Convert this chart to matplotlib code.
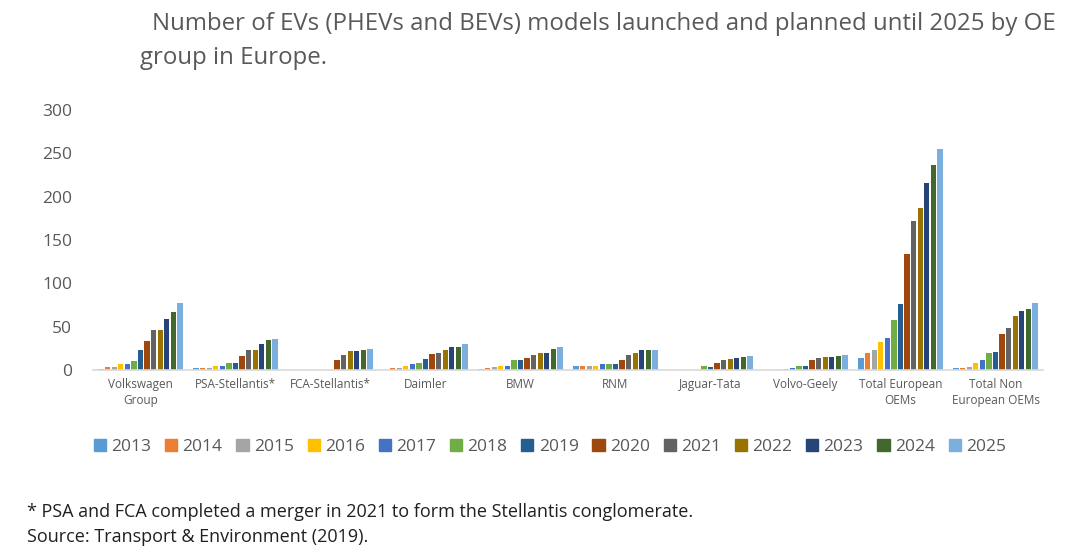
import numpy as np
import matplotlib.pyplot as plt
from matplotlib.patches import Patch

# categories and years
groups = ["Volkswagen\nGroup", "PSA-Stellantis*", "FCA-Stellantis*", "Daimler", "BMW", "RNM",
          "Jaguar-Tata", "Volvo-Geely", "Total European\nOEMs", "Total Non\nEuropean OEMs"]
years = ["2013", "2014", "2015", "2016", "2017", "2018", "2019",
         "2020", "2021", "2022", "2023", "2024", "2025"]

# number of models per group, one row per year (2013..2025)
vw = [1.5, 4, 4, 6.5, 7, 10, 23, 34, 46, 46, 59, 67, 77]
psa = [2, 2, 2, 5, 5, 8.5, 8.5, 16, 23, 23, 30, 35, 36]
fca = [0, 0, 0, 0, 0, 0, 0, 12, 17, 22, 22, 23, 24]
daimler = [0.5, 2, 2, 5, 7, 8.5, 13, 18, 20, 23, 26, 27, 30]
bmw = [1, 2, 4, 5, 5, 11, 11, 14, 17, 20, 20, 24, 27]
rnm = [5, 5, 5, 5, 6.5, 6.5, 6.5, 12, 17, 20, 23, 23, 23]
jaguar = [0, 0, 0, 0, 0.5, 4.5, 4, 8.5, 12, 12.5, 14, 15.5, 16.5]
volvo = [0.5, 0.5, 0.5, 1, 2, 5, 5, 12, 14, 15.5, 15.5, 16.5, 17.5]
total_eu = [14, 19.5, 23.5, 32, 37, 58, 76, 133.5, 171.5, 187, 216, 236, 255]
total_non_eu = [2, 2, 4, 8.5, 11, 20, 20.5, 41.5, 49, 62.5, 68.5, 70.5, 77]

colors = ["#5B9BD5", "#ED7D31", "#A5A5A5", "#FFC000", "#4472C4", "#70AD47", "#255E91",
          "#9E480E", "#636363", "#997300", "#264478", "#43682B", "#7CAFDD"]

data = np.array([vw, psa, fca, daimler, bmw, rnm, jaguar, volvo, total_eu, total_non_eu]).T

txt = "#595959"
plt.rcParams['font.family'] = ['Open Sans', 'DejaVu Sans']

fig = plt.figure(figsize=(10.72, 5.58), dpi=100)
ax = fig.add_axes([93 / 1072, 1 - 370 / 558, 950 / 1072, 260 / 558])

x = np.arange(len(groups))
slot = 0.9 / len(years)
for i, yr in enumerate(years):
    ax.bar(x - 0.45 + slot * (i + 0.5), data[i], width=slot * 0.8, color=colors[i], label=yr)

ax.set_xlim(-0.5, len(groups) - 0.5)
ax.set_ylim(0, 300)
ax.set_yticks(np.arange(0, 301, 50))
ax.set_xticks(x)
ax.set_xticklabels(groups, fontsize=8.5, color=txt, linespacing=1.25)
ax.tick_params(axis='y', labelsize=12.5, labelcolor=txt, length=0, pad=15)
ax.tick_params(axis='x', length=0, pad=6)
for s in ["top", "right", "left"]:
    ax.spines[s].set_visible(False)
ax.spines["bottom"].set_color("#D9D9D9")
ax.spines["bottom"].set_linewidth(1.2)

handles = [Patch(color=c, label=y) for c, y in zip(colors, years)]
fig.legend(handles=handles, loc="center", bbox_to_anchor=(550 / 1072, 1 - 447 / 558), ncol=13,
           frameon=False, fontsize=12.5, labelcolor=txt, handlelength=0.7, handleheight=0.7,
           handletextpad=0.3, columnspacing=0.8)

fig.text(152 / 1072, 1 - 24 / 558, "Number of EVs (PHEVs and BEVs) models launched and planned until 2025 by OE",
         fontsize=17.3, color=txt, va="center", ha="left")
fig.text(140 / 1072, 1 - 58 / 558, "group in Europe.", fontsize=17.3, color=txt, va="center", ha="left")

fig.text(27 / 1072, 1 - 512 / 558, "* PSA and FCA completed a merger in 2021 to form the Stellantis conglomerate.",
         fontsize=13, color="#231F20", va="center", ha="left")
fig.text(27 / 1072, 1 - 537 / 558, "Source: Transport & Environment (2019).",
         fontsize=13, color="#231F20", va="center", ha="left")

fig.savefig("out.png", dpi=100)
